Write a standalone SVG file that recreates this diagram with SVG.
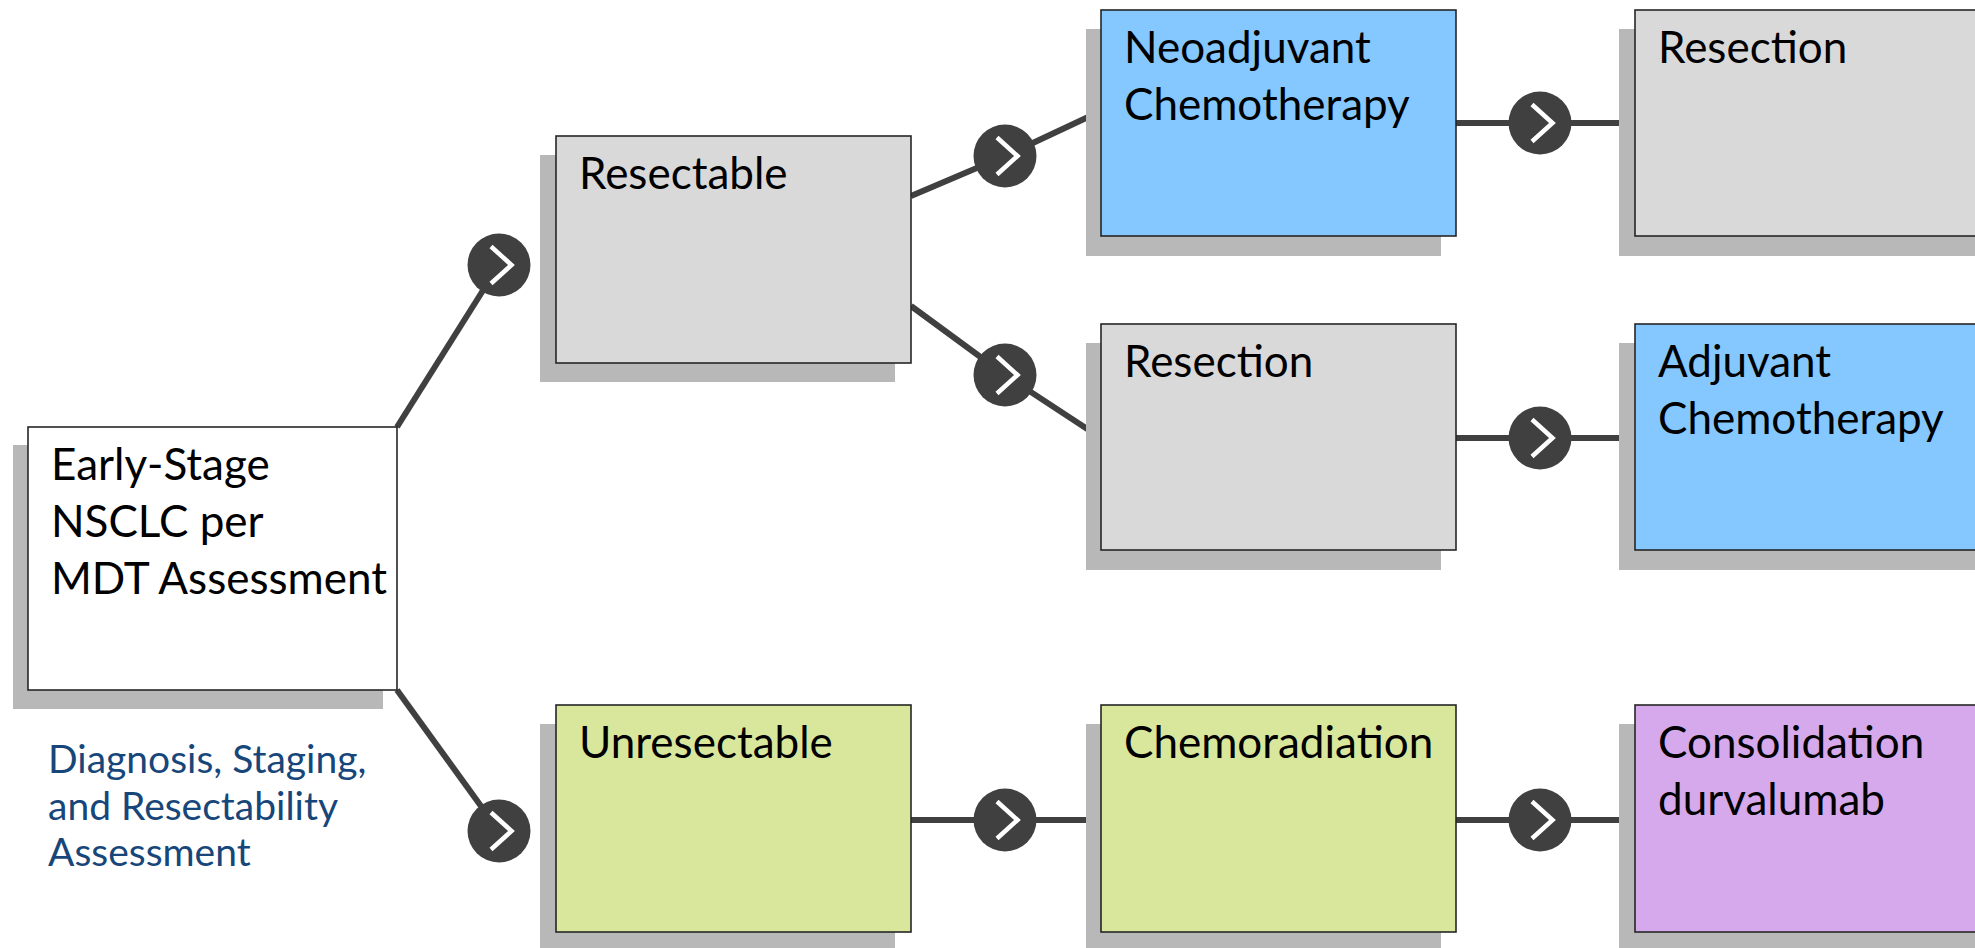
<svg xmlns="http://www.w3.org/2000/svg" width="1975" height="948" viewBox="0 0 1975 948">
  <defs>
    <style>
      .shadow { fill: #b8b8b8; }
      .box { stroke: #262626; stroke-width: 1.6; }
      .white { fill: #ffffff; }
      .gray { fill: #d9d9d9; }
      .blue { fill: #85c8ff; }
      .green { fill: #d8e79b; }
      .purple { fill: #d6a9ec; }
      .label { font-family: Lato, "Liberation Sans", sans-serif; font-size: 44px; fill: #000000; }
      .note { font-family: Lato, "Liberation Sans", sans-serif; font-size: 39px; fill: #17467a; }
      .conn { stroke: #404040; stroke-width: 6; fill: none; }
      .hub { fill: #404040; }
      .chev { stroke: #ffffff; stroke-width: 4.5; fill: none; stroke-linecap: butt; }
    </style>
    <g id="step">
      <circle class="hub" cx="0" cy="0" r="31.5"/>
      <polyline class="chev" points="-8,-18.5 12.5,0 -8,18.5"/>
    </g>
  </defs>

  <rect width="1975" height="948" fill="#ffffff"/>

  <!-- connectors -->
  <g id="connectors">
    <line class="conn" x1="397" y1="427" x2="499" y2="265"/>
    <line class="conn" x1="397" y1="690" x2="499" y2="831"/>
    <polyline class="conn" points="911,196 1005,156 1101,111"/>
    <polyline class="conn" points="911,306 1005,375 1101,438"/>
    <line class="conn" x1="1456" y1="123" x2="1635" y2="123"/>
    <line class="conn" x1="1456" y1="438" x2="1635" y2="438"/>
    <line class="conn" x1="911" y1="820" x2="1101" y2="820"/>
    <line class="conn" x1="1456" y1="820" x2="1635" y2="820"/>
    <use href="#step" x="499" y="265"/>
    <use href="#step" x="499" y="831"/>
    <use href="#step" x="1005" y="156"/>
    <use href="#step" x="1005" y="375"/>
    <use href="#step" x="1540" y="123"/>
    <use href="#step" x="1540" y="438"/>
    <use href="#step" x="1005" y="820"/>
    <use href="#step" x="1540" y="820"/>
  </g>

  <!-- start node -->
  <g id="early-stage">
    <rect class="shadow" x="13" y="445" width="370" height="264"/>
    <rect class="box white" x="28" y="427" width="369" height="263"/>
    <text class="label" x="51" y="480">Early-Stage</text>
    <text class="label" x="51" y="537">NSCLC per</text>
    <text class="label" x="51" y="594">MDT Assessment</text>
  </g>

  <g id="caption">
    <text class="note" x="48" y="773">Diagnosis, Staging,</text>
    <text class="note" x="48" y="820">and Resectability</text>
    <text class="note" x="48" y="866">Assessment</text>
  </g>

  <g id="resectable">
    <rect class="shadow" x="540" y="155" width="355" height="227"/>
    <rect class="box gray" x="556" y="136" width="355" height="227"/>
    <text class="label" x="579" y="189">Resectable</text>
  </g>

  <g id="neoadjuvant">
    <rect class="shadow" x="1086" y="29" width="355" height="227"/>
    <rect class="box blue" x="1101" y="10" width="355" height="226"/>
    <text class="label" x="1124" y="63">Neoadjuvant</text>
    <text class="label" x="1124" y="120">Chemotherapy</text>
  </g>

  <g id="resection-after-neoadjuvant">
    <rect class="shadow" x="1619" y="29" width="370" height="227"/>
    <rect class="box gray" x="1635" y="10" width="370" height="226"/>
    <text class="label" x="1658" y="63">Resection</text>
  </g>

  <g id="resection">
    <rect class="shadow" x="1086" y="343" width="355" height="227"/>
    <rect class="box gray" x="1101" y="324" width="355" height="226"/>
    <text class="label" x="1124" y="377">Resection</text>
  </g>

  <g id="adjuvant">
    <rect class="shadow" x="1619" y="343" width="370" height="227"/>
    <rect class="box blue" x="1635" y="324" width="370" height="226"/>
    <text class="label" x="1658" y="377">Adjuvant</text>
    <text class="label" x="1658" y="434">Chemotherapy</text>
  </g>

  <g id="unresectable">
    <rect class="shadow" x="540" y="724" width="355" height="227"/>
    <rect class="box green" x="556" y="705" width="355" height="227"/>
    <text class="label" x="579" y="758">Unresectable</text>
  </g>

  <g id="chemoradiation">
    <rect class="shadow" x="1086" y="724" width="355" height="227"/>
    <rect class="box green" x="1101" y="705" width="355" height="227"/>
    <text class="label" x="1124" y="758">Chemoradiation</text>
  </g>

  <g id="consolidation">
    <rect class="shadow" x="1619" y="724" width="370" height="227"/>
    <rect class="box purple" x="1635" y="705" width="370" height="227"/>
    <text class="label" x="1658" y="758">Consolidation</text>
    <text class="label" x="1658" y="815">durvalumab</text>
  </g>
</svg>
